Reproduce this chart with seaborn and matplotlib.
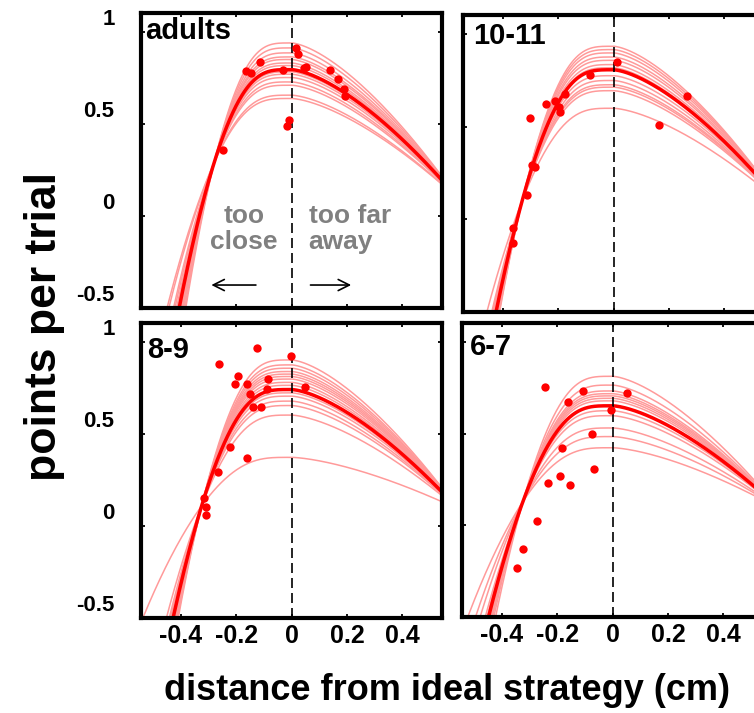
import numpy as np
import pandas as pd
import matplotlib
matplotlib.use('Agg')
import matplotlib.pyplot as plt
import matplotlib.transforms as mtransforms
import seaborn as sns

sns.set_theme(style='white')
plt.rcParams['font.family'] = ['Liberation Sans', 'DejaVu Sans']
plt.rcParams['font.weight'] = 'bold'
plt.rcParams['text.color'] = 'black'
plt.rcParams['xtick.color'] = 'black'
plt.rcParams['ytick.color'] = 'black'
plt.rcParams['axes.labelcolor'] = 'black'

# %% Data

panel_names = ['adults', '10-11', '8-9', '6-7']

# peak height (at x = 0) of each individual fitted curve
peaks_adults = [0.942, 0.915, 0.888, 0.866, 0.852, 0.833, 0.819, 0.785, 0.772, 0.754, 0.730, 0.712, 0.658, 0.640]
peaks_10_11 = [0.936, 0.918, 0.900, 0.878, 0.860, 0.837, 0.820, 0.777, 0.751, 0.728, 0.715, 0.696, 0.601]
peaks_8_9 = [0.904, 0.877, 0.859, 0.841, 0.827, 0.814, 0.800, 0.782, 0.766, 0.725, 0.707, 0.680, 0.656, 0.604, 0.374]
peaks_6_7 = [0.814, 0.766, 0.734, 0.719, 0.707, 0.694, 0.680, 0.626, 0.599, 0.532, 0.485, 0.424]

# group fit (thick line) peak
group_peak = [0.797, 0.809, 0.743, 0.653]

# fit-shape parameters per panel: point where the curves cross on the left, value at right edge
cross_x = [-0.28, -0.33, -0.325, -0.324]
cross_y = [0.29, 0.103, 0.11, 0.13]
end_y = [0.20, 0.20, 0.19, 0.175]

# data points
dots_x_adults = [-0.249, -0.165, -0.145, -0.115, -0.031, -0.016, -0.008, 0.017, 0.024, 0.044, 0.053, 0.140, 0.168, 0.188, 0.192]
dots_y_adults = [0.362, 0.788, 0.781, 0.839, 0.793, 0.489, 0.522, 0.917, 0.884, 0.806, 0.812, 0.793, 0.745, 0.689, 0.652]
dots_x_10_11 = [-0.301, -0.243, -0.210, -0.199, -0.194, -0.174, -0.085, 0.011, 0.264, 0.164, -0.295, -0.285, -0.312, -0.362, -0.363]
dots_y_10_11 = [0.546, 0.622, 0.642, 0.606, 0.582, 0.677, 0.782, 0.849, 0.669, 0.513, 0.297, 0.282, 0.132, -0.046, -0.128]
dots_x_8_9 = [-0.126, -0.004, -0.261, -0.193, -0.204, -0.163, -0.087, -0.090, -0.150, 0.050, -0.138, -0.112, -0.222, -0.163, -0.265, -0.318, -0.308, -0.309]
dots_y_8_9 = [0.971, 0.928, 0.883, 0.818, 0.775, 0.773, 0.800, 0.748, 0.719, 0.755, 0.647, 0.647, 0.432, 0.372, 0.295, 0.155, 0.104, 0.061]
dots_x_6_7 = [-0.245, -0.106, -0.160, 0.051, -0.005, -0.076, -0.182, -0.068, -0.190, -0.235, -0.155, -0.273, -0.323, -0.347]
dots_y_6_7 = [0.753, 0.732, 0.674, 0.721, 0.629, 0.500, 0.422, 0.306, 0.270, 0.230, 0.219, 0.023, -0.129, -0.234]

all_peaks = [peaks_adults, peaks_10_11, peaks_8_9, peaks_6_7]
all_dots = [(dots_x_adults, dots_y_adults), (dots_x_10_11, dots_y_10_11),
            (dots_x_8_9, dots_y_8_9), (dots_x_6_7, dots_y_6_7)]

# %% Fit curve shape

x_edge = 0.54

def left_shape(u):
    return u**4 / (u**2 + 0.04)

def fit_curve(x, peak, xc, yc, ye):
    y = np.empty_like(x)
    left = x < 0
    u = -x[left]
    y[left] = peak - (peak - yc) * left_shape(u) / left_shape(-xc)
    y[~left] = peak - (peak - ye) * (x[~left] / x_edge)**1.5
    return y

xx = np.linspace(-0.56, 0.56, 400)

# %% Plot

fig = plt.figure(figsize=(7.54, 7.13), dpi=100)
W, H = 754, 713
# left, top, width, height in pixels
rects = [(141, 13, 301, 295), (463, 15, 301, 297), (141, 323, 301, 295), (462, 323, 301, 294)]
label_pos = [(0.013, 0.985), (0.033, 0.975), (0.019, 0.955), (0.027, 0.965)]

light_col = '#ff9a9a'

for ii in range(4):
    l, t, w, h = rects[ii]
    ax = fig.add_axes([l / W, (H - t - h) / H, w / W, h / H])

    # individual fits
    rows = []
    for cc, pk in enumerate(all_peaks[ii]):
        ye = end_y[ii] + 0.15 * (pk - group_peak[ii])
        yy = fit_curve(xx, pk, cross_x[ii], cross_y[ii], ye)
        rows.append(pd.DataFrame({'x': xx, 'y': yy, 'curve': cc}))
    df_fits = pd.concat(rows)
    sns.lineplot(data=df_fits, x='x', y='y', units='curve', estimator=None,
                 color=light_col, lw=1.1, ax=ax, legend=False, sort=False)

    # group fit
    df_group = pd.DataFrame({'x': xx, 'y': fit_curve(xx, group_peak[ii], cross_x[ii], cross_y[ii], end_y[ii])})
    sns.lineplot(data=df_group, x='x', y='y', color='#ff0000', lw=2.5, ax=ax, sort=False)

    # data points
    df_dots = pd.DataFrame({'x': all_dots[ii][0], 'y': all_dots[ii][1]})
    sns.scatterplot(data=df_dots, x='x', y='y', color='#ff0000', s=36,
                    linewidth=0, ax=ax, zorder=5)

    ax.axvline(0, color='black', lw=1.2, dashes=(6, 3), zorder=4)

    ax.set_xlim([-0.544, 0.543])
    ax.set_ylim([-0.5, 1.105])
    ax.set_xticks([-0.4, -0.2, 0, 0.2, 0.4])
    ax.set_yticks([-0.5, 0, 0.5, 1])
    ax.set_xlabel('')
    ax.set_ylabel('')

    ax.tick_params(direction='in', length=3, width=1.3, top=True, right=True,
                   bottom=True, left=True, color='black', labelcolor='black')
    ax.tick_params(axis='x', labelsize=18, pad=4)
    ax.tick_params(axis='y', labelsize=16, pad=19)

    if ii < 2:
        ax.set_xticklabels([])
    else:
        ax.set_xticklabels(['-0.4', '-0.2', '0', '0.2', '0.4'], fontweight='bold')
    if ii % 2 == 1:
        ax.set_yticklabels([])
    else:
        ax.set_yticklabels(['-0.5', '0', '0.5', '1'], fontweight='bold')
        # labels sit a little above their ticks in the original
        offset = mtransforms.ScaledTranslation(0, 15 / 100, fig.dpi_scale_trans)
        for lab in ax.get_yticklabels():
            lab.set_transform(lab.get_transform() + offset)

    for sp in ax.spines.values():
        sp.set_linewidth(3)
        sp.set_color('black')
        sp.set_visible(True)

    ax.text(label_pos[ii][0], label_pos[ii][1], panel_names[ii], transform=ax.transAxes,
            ha='left', va='top', fontsize=21, fontweight='bold', color='black')

    if ii == 0:
        ax.text(-0.173, -0.07, 'too\nclose', ha='center', va='center', fontsize=19,
                fontweight='bold', color='#808080', linespacing=1.1)
        ax.text(0.061, -0.07, 'too far\naway', ha='left', va='center', fontsize=19,
                fontweight='bold', color='#808080', linespacing=1.1)
        ax.annotate('', xy=(-0.30, -0.375), xytext=(-0.119, -0.375),
                    arrowprops=dict(arrowstyle='->', lw=1.2, color='black', mutation_scale=20))
        ax.annotate('', xy=(0.225, -0.375), xytext=(0.058, -0.375),
                    arrowprops=dict(arrowstyle='->', lw=1.2, color='black', mutation_scale=20))

fig.text(45 / W, 1 - 327 / H, 'points per trial', rotation=90, ha='center', va='center',
         fontsize=32, fontweight='bold', color='black')
fig.text(447 / W, 1 - 700 / H, 'distance from ideal strategy (cm)', ha='center', va='baseline',
         fontsize=26, fontweight='bold', color='black')

fig.savefig('out.png', dpi=100, facecolor='white')
